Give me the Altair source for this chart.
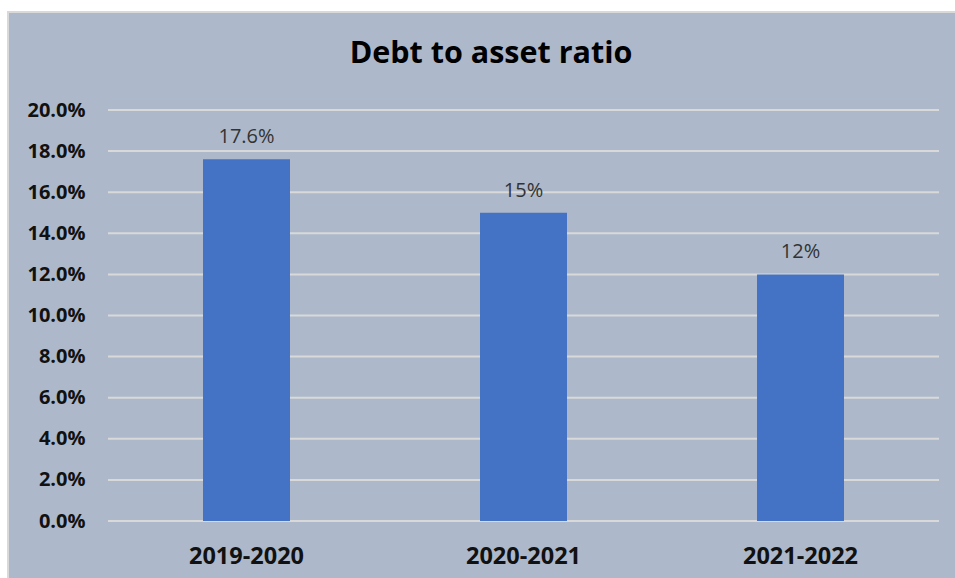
import altair as alt
import pandas as pd

periods = ["2019-2020", "2020-2021", "2021-2022"]
ratios = [0.176, 0.15, 0.12]
labels = ["17.6%", "15%", "12%"]
grid_values = [0.0, 0.02, 0.04, 0.06, 0.08, 0.10, 0.12, 0.14, 0.16, 0.18, 0.20]
title_text = "Debt to asset ratio"

df = pd.DataFrame({"period": periods, "ratio": ratios, "label": labels})
grid_df = pd.DataFrame({"v": grid_values})

FONT = "Open Sans"
W, H = 831, 411

x_enc = alt.X("period:N", sort=periods, title=None,
              scale=alt.Scale(paddingInner=0.686, paddingOuter=0.343),
              axis=alt.Axis(labelFont=FONT, labelFontWeight="bold", labelFontSize=23.5,
                            labelColor="#111111", labelAngle=0, labelBaseline="alphabetic",
                            labelPadding=42, tickSize=0, ticks=False, domain=False,
                            grid=False, zindex=1))
y_scale = alt.Scale(domain=[0, 0.2], nice=False)

bg = alt.Chart(alt.Data(values=[{}])).mark_rect(
    fill="#ADB9CA", stroke="#D9D9D9", strokeWidth=2
).encode(x=alt.value(-100), x2=alt.value(850), y=alt.value(-98), y2=alt.value(470))

title = alt.Chart(alt.Data(values=[{"t": title_text}])).mark_text(
    font=FONT, fontSize=30.5, fontWeight="bold", color="#000000",
    baseline="alphabetic", align="center"
).encode(x=alt.value(383), y=alt.value(-47), text="t:N")

grid = alt.Chart(grid_df).mark_rule(color="#D9D9D9", strokeWidth=2).encode(
    y=alt.Y("v:Q", scale=y_scale)
)

bars = alt.Chart(df).mark_bar(color="#4472C4").encode(
    x=x_enc,
    y=alt.Y("ratio:Q", scale=y_scale, title=None,
            axis=alt.Axis(values=grid_values, format=".1%", labelFont=FONT,
                          labelFontWeight="bold", labelFontSize=20, labelColor="#111111",
                          labelPadding=23, tickSize=0, ticks=False, domain=False,
                          grid=False, zindex=1)),
)

text = alt.Chart(df).mark_text(
    font=FONT, fontSize=20, color="#333333", baseline="alphabetic", dy=-16
).encode(x=alt.X("period:N", sort=periods), y=alt.Y("ratio:Q", scale=y_scale),
         text="label:N")

chart = alt.layer(bg, title, grid, bars, text).properties(
    width=W, height=H,
    autosize=alt.AutoSizeParams(type="none"),
    padding={"left": 108, "top": 110, "right": 16, "bottom": 57},
).configure(background="#FFFFFF").configure_view(stroke=None)

chart.save("out.html", embed_options={"renderer": "svg", "actions": False})
